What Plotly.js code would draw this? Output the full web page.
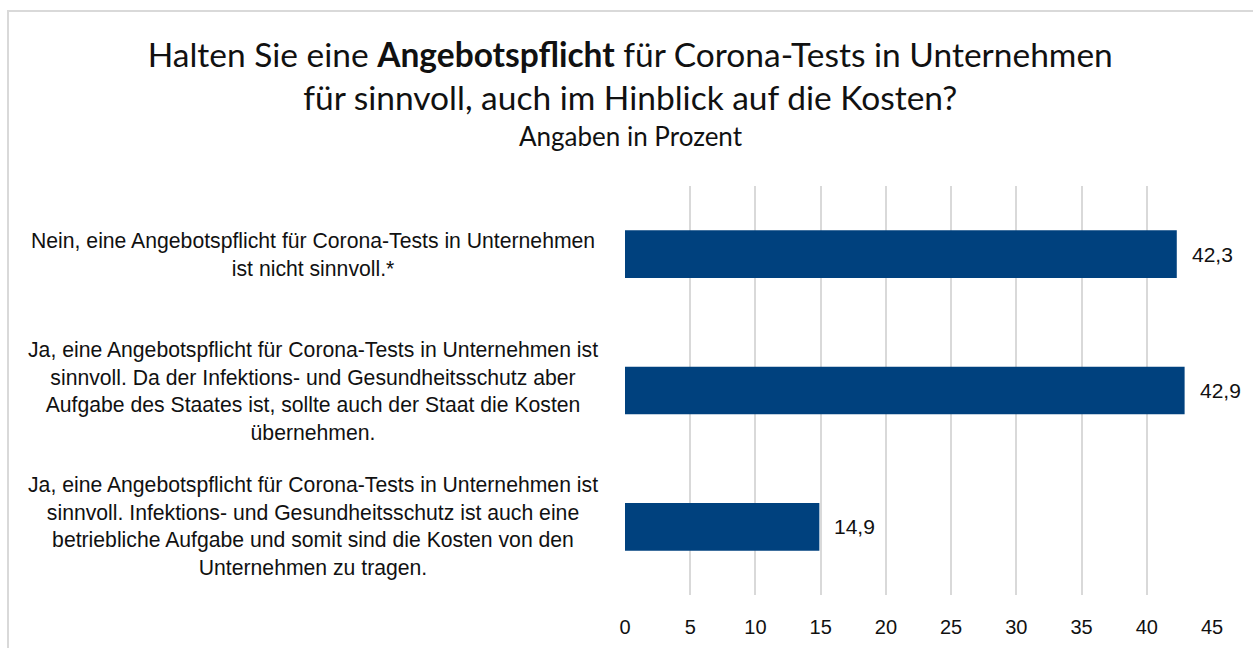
<!DOCTYPE html>
<html>
<head>
<meta charset="utf-8">
<script src="https://cdn.plot.ly/plotly-3.0.1.min.js"></script>
<style>
  html, body { margin: 0; padding: 0; background: #fff; }
  #chart { position: absolute; left: 0; top: 0; width: 1253px; height: 648px; }
  #frame { position: absolute; left: 7px; top: 10px; width: 1260px; height: 660px;
           border: 2px solid #d9d9d9; pointer-events: none; }
</style>
</head>
<body>
<div id="chart"></div>
<div id="frame"></div>
<script>
const categories = [
  "Nein, eine Angebotspflicht für Corona-Tests in Unternehmen<br>ist nicht sinnvoll.*",
  "Ja, eine Angebotspflicht für Corona-Tests in Unternehmen ist<br>sinnvoll. Da der Infektions- und Gesundheitsschutz aber<br>Aufgabe des Staates ist, sollte auch der Staat die Kosten<br>übernehmen.",
  "Ja, eine Angebotspflicht für Corona-Tests in Unternehmen ist<br>sinnvoll. Infektions- und Gesundheitsschutz ist auch eine<br>betriebliche Aufgabe und somit sind die Kosten von den<br>Unternehmen zu tragen."
];
const values = [42.3, 42.9, 14.9];
const tickValues = [0, 5, 10, 15, 20, 25, 30, 35, 40, 45];
const titleText = "Halten Sie eine <b>Angebotspflicht</b> für Corona-Tests in Unternehmen<br>für sinnvoll, auch im Hinblick auf die Kosten?";
const subtitleText = "Angaben in Prozent";

const labelFont = "Liberation Sans, Arial, sans-serif";
const titleFont = "Lato, Open Sans, sans-serif";

const trace = {
  type: "bar",
  orientation: "h",
  x: values,
  y: categories,
  marker: { color: "#00417e" },
  hoverinfo: "x+y"
};

const annotations = [];
categories.forEach((c, i) => {
  annotations.push({
    xref: "paper", yref: "y", x: -0.532, y: c,
    text: c, showarrow: false, xanchor: "center", yanchor: "middle", align: "center",
    font: { family: labelFont, size: 21.2, color: "#111" }
  });
  annotations.push({
    xref: "x", yref: "y", x: values[i], y: c,
    text: values[i].toFixed(1).replace(".", ","), showarrow: false,
    xanchor: "left", yanchor: "middle", xshift: 13,
    font: { family: labelFont, size: 21, color: "#111" }
  });
});
annotations.push({
  xref: "paper", yref: "paper", x: 0.01, y: 1.122,
  text: subtitleText, showarrow: false, xanchor: "center", yanchor: "middle",
  font: { family: titleFont, size: 26, color: "#111" }
});

const layout = {
  width: 1253, height: 648,
  margin: { l: 625, r: 41, t: 186, b: 53 },
  paper_bgcolor: "#fff", plot_bgcolor: "#fff",
  separators: ", ",
  showlegend: false,
  bargap: 0.65,
  title: {
    text: titleText,
    x: 0.503, xanchor: "center", xref: "container",
    y: 0.897, yanchor: "top", yref: "container",
    font: { family: titleFont, size: 33.5, color: "#111" }
  },
  xaxis: {
    range: [0, 45],
    tickvals: tickValues,
    ticktext: tickValues.map(String),
    showgrid: true, gridcolor: "#d9d9d9", gridwidth: 2,
    zeroline: false, showline: false,
    ticks: "", ticklabelstandoff: 18,
    tickfont: { family: labelFont, size: 20, color: "#111" },
    fixedrange: true
  },
  yaxis: {
    type: "category",
    autorange: "reversed",
    showticklabels: false, showgrid: false, zeroline: false, showline: false,
    fixedrange: true
  },
  annotations: annotations
};

Plotly.newPlot("chart", [trace], layout, { displayModeBar: false, staticPlot: true });
</script>
</body>
</html>
